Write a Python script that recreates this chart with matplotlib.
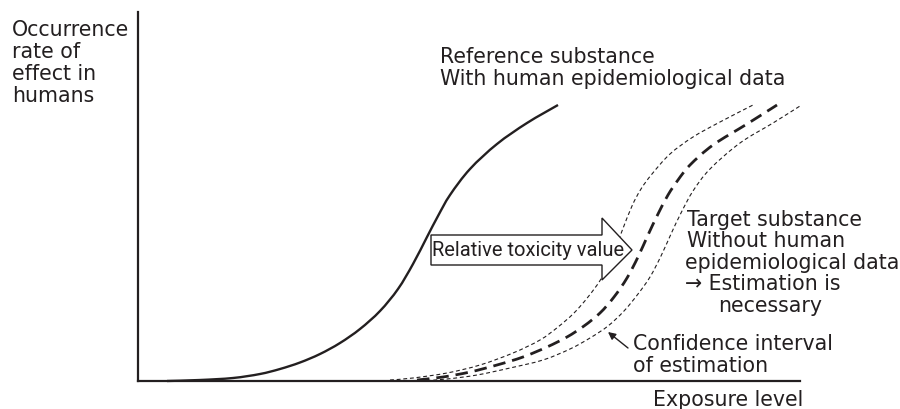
import matplotlib
matplotlib.use("Agg")
import matplotlib.pyplot as plt
from matplotlib.patches import Polygon, PathPatch
from matplotlib.path import Path

# Data in axis units (exposure level, occurrence rate)
ref_x = [29, 62, 95, 122, 142, 162, 182, 202, 222, 242, 260, 275, 289, 300, 312, 332, 359, 389, 420]
ref_y = [0, 1, 3, 7, 12, 18.5, 27, 38, 52, 70, 92, 117, 144, 165, 186, 212, 237, 258, 276]

est_x = [279, 305, 332, 359, 385, 409, 429, 446, 462, 476, 489, 500, 510, 520, 530, 540, 552, 575, 609, 639]
est_y = [1, 4, 9, 16, 24, 34, 44, 55, 68, 84, 103, 124, 146, 167, 186, 201, 216, 236, 257, 276]

ci_low_x = [252, 275, 309, 342, 375, 402, 420, 436, 450, 463, 474, 484, 494, 503, 514, 532, 555, 582, 615]
ci_low_y = [1, 3, 8, 16, 28, 41, 54, 68, 84, 102, 124, 150, 175, 192, 207, 227, 244, 259, 276]

ci_high_x = [282, 309, 339, 372, 405, 432, 452, 470, 486, 500, 512, 523, 533, 543, 555, 572, 602, 635, 662]
ci_high_y = [0, 2, 6, 13, 21, 32, 43, 55, 70, 87, 104, 125, 147, 168, 190, 212, 238, 258, 275]

arrow_shape = [(293, 146), (464, 146), (464, 163), (494, 131), (464, 101), (464, 116), (293, 116)]

C = '#231f20'
W, H = 900, 409
fig = plt.figure(figsize=(9, 4.09), dpi=100)
ax = fig.add_axes([138 / W, (H - 381) / H, (800 - 138) / W, (381 - 12) / H])
ax.set_xlim(0, 662)
ax.set_ylim(0, 369)
for s in ['top', 'right']:
    ax.spines[s].set_visible(False)
for s in ['left', 'bottom']:
    ax.spines[s].set_linewidth(1.6)
    ax.spines[s].set_color(C)
ax.set_xticks([])
ax.set_yticks([])
ax.patch.set_alpha(0)


def smooth_curve(xs, ys, **kw):
    """Draw a smooth curve passing through the given points (Catmull-Rom as Bezier)."""
    pts = list(zip(xs, ys))
    n = len(pts)
    verts = [pts[0]]
    codes = [Path.MOVETO]
    for i in range(n - 1):
        p0 = pts[i - 1] if i > 0 else pts[i]
        p1 = pts[i]
        p2 = pts[i + 1]
        p3 = pts[i + 2] if i + 2 < n else pts[i + 1]
        c1 = (p1[0] + (p2[0] - p0[0]) / 6.0, p1[1] + (p2[1] - p0[1]) / 6.0)
        c2 = (p2[0] - (p3[0] - p1[0]) / 6.0, p2[1] - (p3[1] - p1[1]) / 6.0)
        verts += [c1, c2, p2]
        codes += [Path.CURVE4] * 3
    patch = PathPatch(Path(verts, codes), facecolor='none', edgecolor=C, clip_on=False,
                      capstyle='butt', joinstyle='round', **kw)
    ax.add_patch(patch)


smooth_curve(ref_x, ref_y, lw=1.7)
smooth_curve(est_x, est_y, lw=2.0, linestyle=(0, (4.5, 2.5)))
smooth_curve(ci_low_x, ci_low_y, lw=0.8, linestyle=(0, (3.5, 2.5)))
smooth_curve(ci_high_x, ci_high_y, lw=0.8, linestyle=(0, (3.5, 2.5)))

ax.add_patch(Polygon(arrow_shape, closed=True, facecolor='white', edgecolor=C, lw=1.0, zorder=3))
ax.text(390, 131, 'Relative toxicity value', ha='center', va='center', fontsize=14.5,
        family=['Roboto', 'DejaVu Sans'], color=C, zorder=4)

ax.annotate('', xy=(470, 49), xytext=(490, 33),
            arrowprops=dict(arrowstyle='-|>', color=C, lw=1.0, mutation_scale=11, shrinkA=0, shrinkB=0))

FS = 14.8


def txt(px, py, s):
    ax.text(px - 138, 381 - py, s, ha='left', va='baseline', fontsize=FS, color=C,
            family='DejaVu Sans', clip_on=False)


for i, line in enumerate(['Occurrence', 'rate of', 'effect in', 'humans']):
    txt(12, 36 + 22 * i, line)

txt(440, 63, 'Reference substance')
txt(440, 85, 'With human epidemiological data')

txt(687, 226, 'Target substance')
txt(687, 247, 'Without human')
txt(685, 269, 'epidemiological data')
txt(685, 290, '→ Estimation is')
txt(718, 312, 'necessary')

txt(633, 350, 'Confidence interval')
txt(633, 372, 'of estimation')

txt(653, 406, 'Exposure level')

fig.savefig('out.png', dpi=100)
